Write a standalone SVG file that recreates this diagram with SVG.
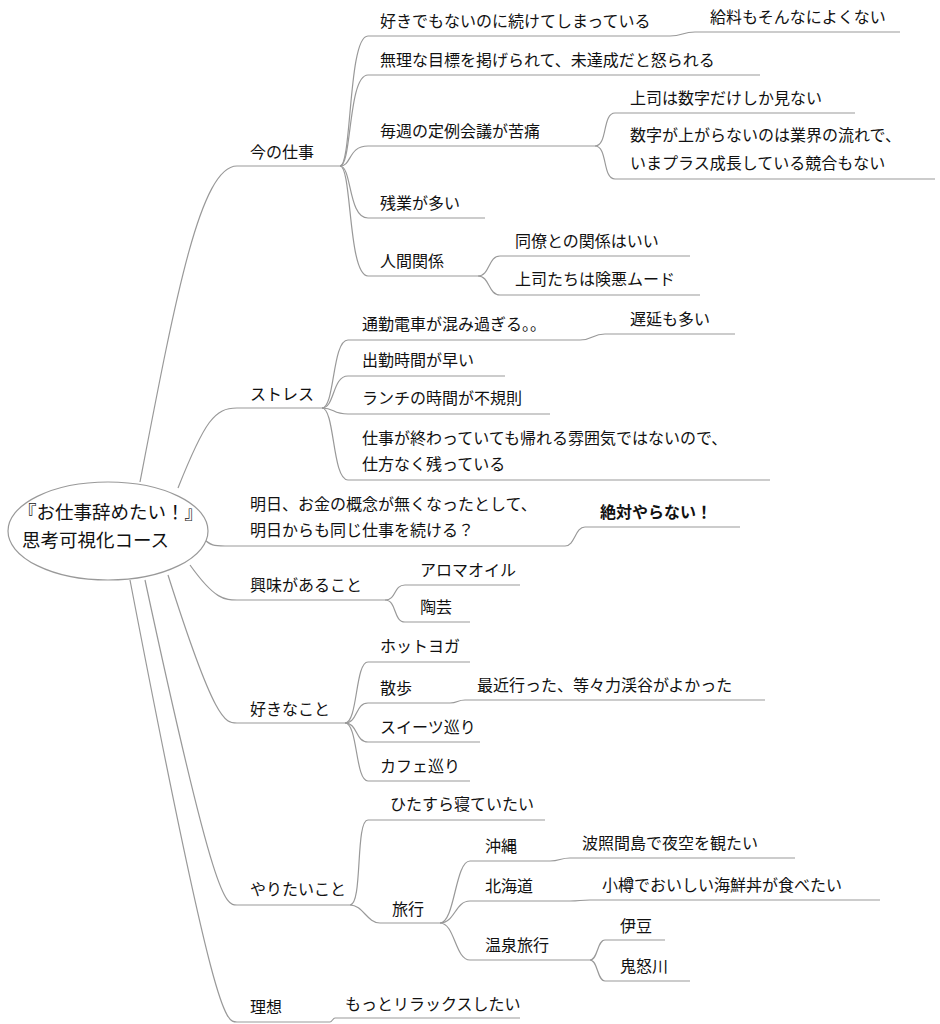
<svg xmlns="http://www.w3.org/2000/svg" width="940" height="1024" viewBox="0 0 940 1024">
<style>
text{font-family:"Noto Sans CJK JP","Liberation Sans",sans-serif;font-size:16px;fill:#111}
.b{font-weight:bold}
.r{font-size:18.5px}
.u,.c{stroke:#999;stroke-width:1.2;fill:none}
</style>
<rect width="940" height="1024" fill="#fff"/>
<g id="connectors" class="c">
<path d="M140,482 C175,300 200,166 237,166"/>
<path d="M178,488 C205,420 215,408 237,408"/>
<path d="M202,537 C210,546 215,546 225,546"/>
<path d="M190,565 C215,600 225,600 237,600"/>
<path d="M168,575 C215,723 225,723 237,723"/>
<path d="M145,580 C215,905 225,905 237,905"/>
<path d="M130,580 C215,1022 225,1022 237,1022"/>
<path d="M340,166 C352,166 348,36 368,36"/>
<path d="M340,166 C352,166 348,75 368,75"/>
<path d="M340,166 C352,166 348,146 368,146"/>
<path d="M340,166 C352,166 348,218 368,218"/>
<path d="M340,166 C352,166 348,276 368,276"/>
<path d="M670,36 C683,36 682,32 695,32"/>
<path d="M595,146 C608,146 602,113 615,113"/>
<path d="M595,146 C608,146 602,179 615,179"/>
<path d="M478,276 C490,276 488,256 500,256"/>
<path d="M478,276 C490,276 488,295 500,295"/>
<path d="M322,408 C335,408 332,340 348,340"/>
<path d="M322,408 C335,408 332,376 348,376"/>
<path d="M322,408 C335,408 332,414 348,414"/>
<path d="M322,408 C335,408 332,480 348,480"/>
<path d="M580,340 C593,340 592,334 605,334"/>
<path d="M565,546 C575,546 575,527 585,527"/>
<path d="M385,600 C397,600 393,585 405,585"/>
<path d="M385,600 C397,600 393,622 405,622"/>
<path d="M345,723 C358,723 355,662 368,662"/>
<path d="M345,723 C358,723 355,703 368,703"/>
<path d="M345,723 C358,723 355,742 368,742"/>
<path d="M345,723 C358,723 355,781 368,781"/>
<path d="M450,703 C458,703 457,700 465,700"/>
<path d="M350,905 C363,905 355,820 368,820"/>
<path d="M350,905 C363,905 367,923 380,923"/>
<path d="M440,923 C455,923 455,861 470,861"/>
<path d="M440,923 C455,923 455,901 470,901"/>
<path d="M440,923 C455,923 455,960 470,960"/>
<path d="M550,861 C560,861 560,858 570,858"/>
<path d="M570,901 C580,901 580,900 590,900"/>
<path d="M590,960 C598,960 597,940 605,940"/>
<path d="M590,960 C598,960 597,981 605,981"/>
<path d="M330,1022 C332,1022 333,1018 335,1018"/>
</g>
<g id="root"><ellipse cx="108" cy="531" rx="100" ry="49" fill="#fff" stroke="#999" stroke-width="1.2"/><text class="r" x="18" y="519">『お仕事辞めたい！』</text><text class="r" x="22" y="547">思考可視化コース</text></g>
<g id="n1"><text x="250" y="158">今の仕事</text><path class="u" d="M237,166H340"/></g>
<g id="n1a"><text x="380" y="27">好きでもないのに続けてしまっている</text><path class="u" d="M368,36H670"/></g>
<g id="n1a1"><text x="710" y="23">給料もそんなによくない</text><path class="u" d="M695,32H900"/></g>
<g id="n1b"><text x="380" y="66">無理な目標を掲げられて、未達成だと怒られる</text><path class="u" d="M368,75H760"/></g>
<g id="n1c"><text x="380" y="137">毎週の定例会議が苦痛</text><path class="u" d="M368,146H595"/></g>
<g id="n1c1"><text x="630" y="104">上司は数字だけしか見ない</text><path class="u" d="M615,113H855"/></g>
<g id="n1c2"><text x="630" y="141">数字が上がらないのは業界の流れで、</text><text x="630" y="169">いまプラス成長している競合もない</text><path class="u" d="M615,179H935"/></g>
<g id="n1d"><text x="380" y="209">残業が多い</text><path class="u" d="M368,218H485"/></g>
<g id="n1e"><text x="380" y="267">人間関係</text><path class="u" d="M368,276H478"/></g>
<g id="n1e1"><text x="515" y="247">同僚との関係はいい</text><path class="u" d="M500,256H690"/></g>
<g id="n1e2"><text x="515" y="285">上司たちは険悪ムード</text><path class="u" d="M500,295H700"/></g>
<g id="n2"><text x="250" y="400">ストレス</text><path class="u" d="M237,408H322"/></g>
<g id="n2a"><text x="362" y="330">通勤電車が混み過ぎる。。</text><path class="u" d="M348,340H580"/></g>
<g id="n2a1"><text x="630" y="325">遅延も多い</text><path class="u" d="M605,334H735"/></g>
<g id="n2b"><text x="362" y="366">出勤時間が早い</text><path class="u" d="M348,376H505"/></g>
<g id="n2c"><text x="362" y="404">ランチの時間が不規則</text><path class="u" d="M348,414H550"/></g>
<g id="n2d"><text x="362" y="444">仕事が終わっていても帰れる雰囲気ではないので、</text><text x="362" y="470">仕方なく残っている</text><path class="u" d="M348,480H770"/></g>
<g id="n3"><text x="250" y="510">明日、お金の概念が無くなったとして、</text><text x="250" y="536">明日からも同じ仕事を続ける？</text><path class="u" d="M225,546H565"/></g>
<g id="n3a"><text class="b" x="600" y="518">絶対やらない！</text><path class="u" d="M585,527H740"/></g>
<g id="n4"><text x="250" y="591">興味があること</text><path class="u" d="M237,600H385"/></g>
<g id="n4a"><text x="420" y="576">アロマオイル</text><path class="u" d="M405,585H520"/></g>
<g id="n4b"><text x="420" y="613">陶芸</text><path class="u" d="M405,622H470"/></g>
<g id="n5"><text x="250" y="715">好きなこと</text><path class="u" d="M237,723H345"/></g>
<g id="n5a"><text x="380" y="652">ホットヨガ</text><path class="u" d="M368,662H470"/></g>
<g id="n5b"><text x="380" y="694">散歩</text><path class="u" d="M368,703H450"/></g>
<g id="n5b1"><text x="477" y="691">最近行った、等々力渓谷がよかった</text><path class="u" d="M465,700H765"/></g>
<g id="n5c"><text x="380" y="733">スイーツ巡り</text><path class="u" d="M368,742H480"/></g>
<g id="n5d"><text x="380" y="772">カフェ巡り</text><path class="u" d="M368,781H470"/></g>
<g id="n6"><text x="250" y="895">やりたいこと</text><path class="u" d="M237,905H350"/></g>
<g id="n6a"><text x="390" y="810">ひたすら寝ていたい</text><path class="u" d="M368,820H545"/></g>
<g id="n6b"><text x="392" y="915">旅行</text><path class="u" d="M380,923H440"/></g>
<g id="n6b1"><text x="485" y="852">沖縄</text><path class="u" d="M470,861H550"/></g>
<g id="n6b1a"><text x="582" y="849">波照間島で夜空を観たい</text><path class="u" d="M570,858H795"/></g>
<g id="n6b2"><text x="485" y="892">北海道</text><path class="u" d="M470,901H570"/></g>
<g id="n6b2a"><text x="602" y="891">小樽でおいしい海鮮丼が食べたい</text><path class="u" d="M590,900H880"/></g>
<g id="n6b3"><text x="485" y="951">温泉旅行</text><path class="u" d="M470,960H590"/></g>
<g id="n6b3a"><text x="620" y="932">伊豆</text><path class="u" d="M605,940H665"/></g>
<g id="n6b3b"><text x="620" y="972">鬼怒川</text><path class="u" d="M605,981H690"/></g>
<g id="n7"><text x="250" y="1013">理想</text><path class="u" d="M237,1022H330"/></g>
<g id="n7a"><text x="345" y="1010">もっとリラックスしたい</text><path class="u" d="M335,1018H520"/></g>
</svg>
